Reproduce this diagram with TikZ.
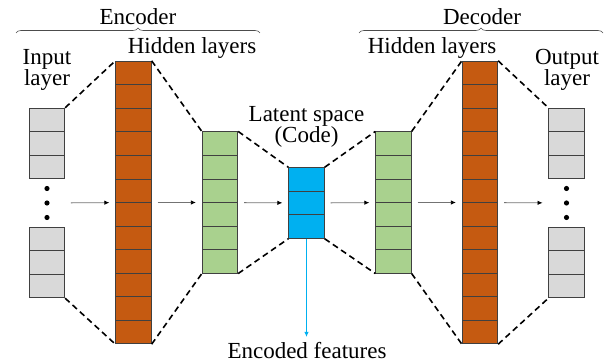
\documentclass[tikz,border=0pt]{standalone}
\usepackage{fontspec}
\setmainfont{Liberation Serif}
\usepackage{tikz}
\usetikzlibrary{arrows.meta}
\usetikzlibrary{decorations.pathreplacing}
\definecolor{ingray}{HTML}{D9D9D9}
\definecolor{hidorange}{HTML}{C55A11}
\definecolor{hidgreen}{HTML}{A9D18E}
\definecolor{codeblue}{HTML}{00B0F0}
\newcommand{\cellh}{23.55pt}
\tikzstyle{col} = [draw=black!75, line width=0.8pt, inner sep=0pt, minimum width=35.5pt]
\tikzstyle{dashline} = [draw, line width=1.6pt, dash pattern=on 6pt off 4pt]
\tikzstyle{flow} = [draw, black!55, line width=0.8pt, -{Latex[black,length=5pt,width=4.5pt]},
shorten <=6pt, shorten >=6pt]
\tikzstyle{brace} = [draw, black!70, line width=0.6pt, decorate, decoration={brace, amplitude=5pt}]

\begin{document}
\begin{tikzpicture}[x=1pt, y=-1pt,
	cells/.style={minimum height=#1*\cellh,
		path picture={\foreach \i in {1,...,#1} {\draw[black!75, line width=0.8pt]
			([yshift=-\i*\cellh]path picture bounding box.north west) --
			([yshift=-\i*\cellh]path picture bounding box.north east);}}},
	lbl/.style={font=\fontsize{23}{21}\selectfont, inner sep=0pt, align=center},
	dotsbox/.style={inner sep=0pt, minimum width=35.5pt, minimum height=40pt}]
	\useasboundingbox (0,0) rectangle (614,363);
	% Layers
	\node [col, cells=3, fill=ingray] at (47,143.5) (in1) {};
	\node [col, cells=3, fill=ingray] at (47,262.5) (in2) {};
	\node [dotsbox] at (47,203) (indots) {};
	\node [col, cells=12, fill=hidorange] at (133.5,202.5) (enc1) {};
	\node [col, cells=6, fill=hidgreen] at (220,202.5) (enc2) {};
	\node [col, cells=3, fill=codeblue] at (306.5,203) (code) {};
	\node [col, cells=6, fill=hidgreen] at (393.5,202.5) (dec1) {};
	\node [col, cells=12, fill=hidorange] at (480,202.5) (dec2) {};
	\node [col, cells=3, fill=ingray] at (566.5,143.5) (out1) {};
	\node [col, cells=3, fill=ingray] at (566.5,262.5) (out2) {};
	\node [dotsbox] at (566.5,203) (outdots) {};
	\foreach \d in {-14.5,0,14.5} {
		\fill (indots.center) ++(0,\d) circle (2.6pt);
		\fill (outdots.center) ++(0,\d) circle (2.6pt);
	}
	% Labels
	\node [lbl, anchor=base] at (138,25) (enclbl) {Encoder};
	\node [lbl, anchor=base] at (482,25) (declbl) {Decoder};
	\node [lbl, anchor=base] at (192,54) (enchid) {Hidden layers};
	\node [lbl, anchor=base] at (432,54) (dechid) {Hidden layers};
	\node [lbl] at (47,69.5) (inlbl) {Input\\layer};
	\node [lbl] at (567,69.5) (outlbl) {Output\\layer};
	\node [lbl] at (306.5,126.5) (codelbl) {Latent space\\(Code)};
	\node [lbl, anchor=base] at (307,359) (featlbl) {Encoded features};
	\coordinate (featend) at (306.5,337);
	% Braces
	\path [brace] (16,33) -- (260,33);
	\path [brace] (359,33) -- (603,33);
	%% Flows
	% Dashed fan-in and fan-out
	\path [dashline] (in1.north east) -- (enc1.north west);
	\path [dashline] (in2.south east) -- (enc1.south west);
	\path [dashline] (enc1.north east) -- (enc2.north west);
	\path [dashline] (enc1.south east) -- (enc2.south west);
	\path [dashline] (enc2.north east) -- (code.north west);
	\path [dashline] (enc2.south east) -- (code.south west);
	\path [dashline] (code.north east) -- (dec1.north west);
	\path [dashline] (code.south east) -- (dec1.south west);
	\path [dashline] (dec1.north east) -- (dec2.north west);
	\path [dashline] (dec1.south east) -- (dec2.south west);
	\path [dashline] (dec2.north east) -- (out1.north west);
	\path [dashline] (dec2.south east) -- (out2.south west);
	% Forward arrows
	\path [flow] (indots) -- (enc1);
	\path [flow] (enc1) -- (enc2);
	\path [flow] (enc2) -- (code);
	\path [flow] (code) -- (dec1);
	\path [flow] (dec1) -- (dec2);
	\path [flow] (dec2) -- (outdots);
	% Encoded features
	\path [draw, codeblue, line width=1.4pt, -{Latex[length=5pt,width=4.5pt]}] (code) -- (featend);
\end{tikzpicture}
\end{document}
